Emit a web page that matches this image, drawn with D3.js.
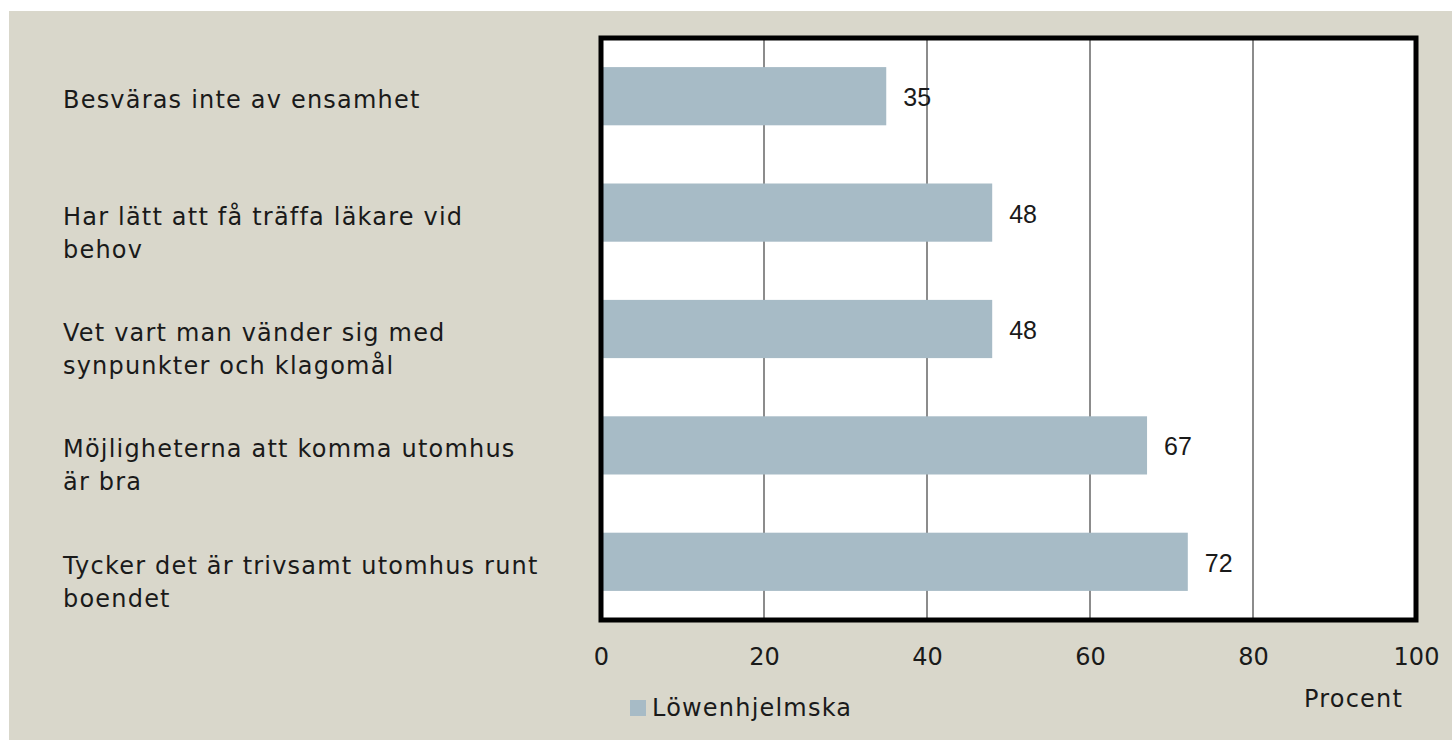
<!DOCTYPE html>
<html>
<head>
<meta charset="utf-8">
<script src="https://cdn.jsdelivr.net/npm/d3@7"></script>
<style>
  body { margin: 0; background: #ffffff; }
  text { font-family: "DejaVu Sans", sans-serif; fill: #1a1a1a; }
  .lbl { font-size: 24px; letter-spacing: 1.2px; }
</style>
</head>
<body>
<div id="my_dataviz"></div>
<script>
// data
var categories = [
  "Besväras inte av ensamhet",
  "Har lätt att få träffa läkare vid\nbehov",
  "Vet vart man vänder sig med\nsynpunkter och klagomål",
  "Möjligheterna att komma utomhus\när bra",
  "Tycker det är trivsamt utomhus runt\nboendet"
];
var values = [35, 48, 48, 67, 72];
var xTicks = [0, 20, 40, 60, 80, 100];
var seriesName = "Löwenhjelmska";
var axisTitle = "Procent";

// size of the page and the plot box
var W = 1452, H = 740;
var margin = {top: 38, right: 36, bottom: 120, left: 601},
    width = W - margin.left - margin.right,
    height = H - margin.top - margin.bottom;

var svg = d3.select("#my_dataviz")
    .append("svg")
    .attr("width", W)
    .attr("height", H);

// beige background panel
svg.append("rect")
    .attr("x", 9).attr("y", 11)
    .attr("width", W - 9).attr("height", H - 11)
    .attr("fill", "#d9d7cb");

var g = svg.append("g")
    .attr("transform", "translate(" + margin.left + "," + margin.top + ")");

var x = d3.scaleLinear()
    .domain([0, 100])
    .range([0, width]);

var y = d3.scaleBand()
    .domain(categories)
    .range([0, height])
    .paddingInner(0.5)
    .paddingOuter(0.25);

// white plot area
g.append("rect")
    .attr("width", width)
    .attr("height", height)
    .attr("fill", "#ffffff");

// vertical gridlines
g.selectAll(".grid")
    .data(xTicks.filter(function(d) { return d > 0 && d < 100; }))
    .enter()
    .append("line")
    .attr("x1", function(d) { return x(d); })
    .attr("x2", function(d) { return x(d); })
    .attr("y1", 0)
    .attr("y2", height)
    .attr("stroke", "#8c8c8c")
    .attr("stroke-width", 2);

// bars
g.selectAll(".bar")
    .data(values)
    .enter()
    .append("rect")
    .attr("x", 0)
    .attr("y", function(d, i) { return y(categories[i]); })
    .attr("width", function(d) { return x(d); })
    .attr("height", y.bandwidth())
    .attr("fill", "#a7bbc6");

// value labels
g.selectAll(".val")
    .data(values)
    .enter()
    .append("text")
    .attr("x", function(d) { return x(d) + 17; })
    .attr("y", function(d, i) { return y(categories[i]) + y.bandwidth() / 2 + 10; })
    .style("font-family", "'Liberation Sans', Arial, sans-serif")
    .style("font-size", "25px")
    .text(function(d) { return d; });

// thick frame round the plot
g.append("rect")
    .attr("width", width)
    .attr("height", height)
    .attr("fill", "none")
    .attr("stroke", "#000")
    .attr("stroke-width", 5);

// x axis labels
var xAxis = g.append("g")
    .attr("transform", "translate(0," + height + ")")
    .call(d3.axisBottom(x).tickValues(xTicks).tickSize(0).tickPadding(28));
xAxis.select(".domain").remove();
xAxis.selectAll("text")
    .style("font-family", "'DejaVu Sans', sans-serif")
    .style("font-size", "24px")
    .attr("fill", "#1a1a1a");

// category labels, one line per tspan
g.selectAll(".cat")
    .data(categories)
    .enter()
    .append("text")
    .attr("class", "lbl")
    .attr("x", 63 - margin.left)
    .attr("y", function(d) { return y(d) + y.bandwidth() / 2 + 12; })
    .each(function(d) {
        var t = d3.select(this);
        d.split("\n").forEach(function(line, k) {
            t.append("tspan")
                .attr("x", 63 - margin.left)
                .attr("dy", k === 0 ? 0 : 33)
                .text(line);
        });
    });

// axis title
svg.append("text")
    .attr("class", "lbl")
    .attr("x", 1304)
    .attr("y", 707)
    .text(axisTitle);

// legend
svg.append("rect")
    .attr("x", 630).attr("y", 700)
    .attr("width", 16).attr("height", 16)
    .attr("fill", "#a7bbc6");
svg.append("text")
    .attr("class", "lbl")
    .attr("x", 652)
    .attr("y", 716)
    .text(seriesName);
</script>
</body>
</html>
